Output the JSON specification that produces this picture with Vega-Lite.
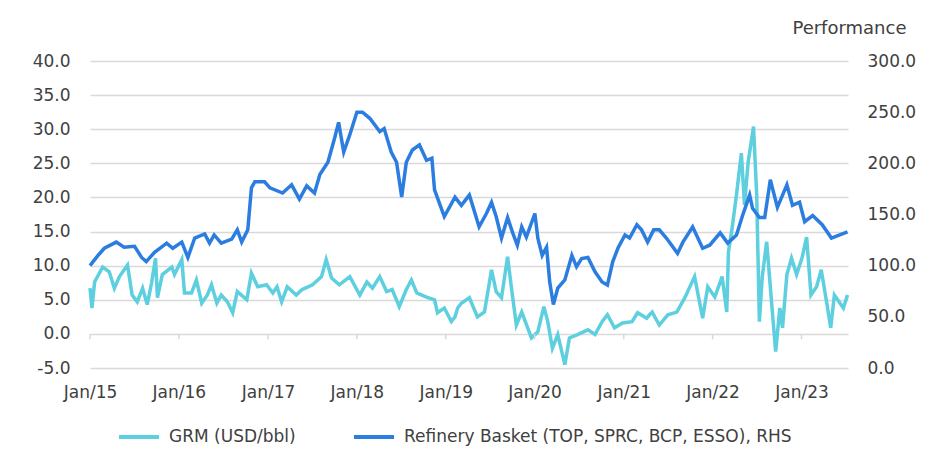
{
  "$schema": "https://vega.github.io/schema/vega-lite/v6.json",
  "width": 758,
  "height": 307,
  "autosize": {"type": "none"},
  "padding": {"left": 90, "top": 61, "right": 80, "bottom": 100},
  "background": "white",
  "config": {
    "font": "DejaVu Sans",
    "view": {"stroke": null},
    "axis": {
      "labelFont": "DejaVu Sans",
      "labelFontSize": 17,
      "labelColor": "#404040",
      "labelOverlap": false,
      "domain": false,
      "ticks": false,
      "gridColor": "#d9d9d9",
      "gridWidth": 1.5,
      "titleFont": "DejaVu Sans",
      "titleFontWeight": "normal",
      "titleColor": "#404040",
      "titleFontSize": 18
    }
  },
  "datasets": {
    "ticks": [
      {"d": "2015-01-01"}, {"d": "2016-01-01"}, {"d": "2017-01-01"}, {"d": "2018-01-01"}, {"d": "2019-01-01"},
      {"d": "2020-01-01"}, {"d": "2021-01-01"}, {"d": "2022-01-01"}, {"d": "2023-01-01"}
    ],
    "grm": [
      {"d": "2015-01-01", "v": 6.7}, {"d": "2015-01-09", "v": 3.8}, {"d": "2015-01-20", "v": 7.6},
      {"d": "2015-02-22", "v": 9.8}, {"d": "2015-03-21", "v": 9.1}, {"d": "2015-04-11", "v": 6.7},
      {"d": "2015-05-02", "v": 8.4}, {"d": "2015-06-04", "v": 10.1}, {"d": "2015-06-23", "v": 5.7},
      {"d": "2015-07-14", "v": 4.7}, {"d": "2015-08-05", "v": 6.7}, {"d": "2015-08-24", "v": 4.3},
      {"d": "2015-09-11", "v": 7.5}, {"d": "2015-09-27", "v": 11.1}, {"d": "2015-10-05", "v": 5.3},
      {"d": "2015-10-25", "v": 8.7}, {"d": "2015-12-03", "v": 9.8}, {"d": "2015-12-14", "v": 8.7},
      {"d": "2016-01-13", "v": 10.9}, {"d": "2016-01-24", "v": 6.0}, {"d": "2016-02-22", "v": 6.0},
      {"d": "2016-03-13", "v": 7.9}, {"d": "2016-04-04", "v": 4.5}, {"d": "2016-04-27", "v": 5.7},
      {"d": "2016-05-14", "v": 7.2}, {"d": "2016-06-05", "v": 4.5}, {"d": "2016-06-23", "v": 5.7},
      {"d": "2016-07-18", "v": 4.7}, {"d": "2016-08-09", "v": 3.1}, {"d": "2016-08-28", "v": 6.2},
      {"d": "2016-10-06", "v": 5.0}, {"d": "2016-10-25", "v": 8.9}, {"d": "2016-11-20", "v": 6.9},
      {"d": "2016-12-26", "v": 7.2}, {"d": "2017-01-21", "v": 6.0}, {"d": "2017-02-07", "v": 6.9},
      {"d": "2017-02-26", "v": 4.7}, {"d": "2017-03-21", "v": 6.9}, {"d": "2017-04-27", "v": 5.7},
      {"d": "2017-05-21", "v": 6.5}, {"d": "2017-07-03", "v": 7.2}, {"d": "2017-08-09", "v": 8.4},
      {"d": "2017-08-28", "v": 10.9}, {"d": "2017-09-19", "v": 8.2}, {"d": "2017-10-21", "v": 7.2},
      {"d": "2017-12-03", "v": 8.4}, {"d": "2018-01-13", "v": 5.7}, {"d": "2018-02-11", "v": 7.6},
      {"d": "2018-03-06", "v": 6.7}, {"d": "2018-04-05", "v": 8.4}, {"d": "2018-05-03", "v": 6.2},
      {"d": "2018-05-26", "v": 6.5}, {"d": "2018-06-24", "v": 4.0}, {"d": "2018-07-23", "v": 6.5},
      {"d": "2018-08-13", "v": 7.9}, {"d": "2018-09-04", "v": 6.0}, {"d": "2018-10-14", "v": 5.4},
      {"d": "2018-11-16", "v": 5.0}, {"d": "2018-11-28", "v": 3.1}, {"d": "2018-12-26", "v": 3.8},
      {"d": "2019-01-24", "v": 1.8}, {"d": "2019-02-08", "v": 2.5}, {"d": "2019-02-19", "v": 3.8},
      {"d": "2019-03-06", "v": 4.5}, {"d": "2019-04-08", "v": 5.3}, {"d": "2019-05-11", "v": 2.5},
      {"d": "2019-06-09", "v": 3.2}, {"d": "2019-07-08", "v": 9.4}, {"d": "2019-07-27", "v": 6.2},
      {"d": "2019-08-18", "v": 5.3}, {"d": "2019-09-12", "v": 11.3}, {"d": "2019-09-28", "v": 6.7},
      {"d": "2019-10-18", "v": 1.3}, {"d": "2019-11-09", "v": 3.2}, {"d": "2019-12-19", "v": -0.6},
      {"d": "2020-01-14", "v": 0.3}, {"d": "2020-02-08", "v": 4.0}, {"d": "2020-02-24", "v": 1.8},
      {"d": "2020-03-14", "v": -2.1}, {"d": "2020-04-05", "v": -0.1}, {"d": "2020-05-04", "v": -4.5},
      {"d": "2020-05-23", "v": -0.6}, {"d": "2020-06-25", "v": -0.1}, {"d": "2020-08-07", "v": 0.6},
      {"d": "2020-09-05", "v": -0.1}, {"d": "2020-10-04", "v": 1.8}, {"d": "2020-10-26", "v": 2.8},
      {"d": "2020-11-24", "v": 0.9}, {"d": "2020-12-27", "v": 1.6}, {"d": "2021-02-04", "v": 1.8},
      {"d": "2021-02-27", "v": 3.1}, {"d": "2021-04-05", "v": 2.3}, {"d": "2021-04-17", "v": 2.8},
      {"d": "2021-04-28", "v": 3.2}, {"d": "2021-05-27", "v": 1.3}, {"d": "2021-07-01", "v": 2.8},
      {"d": "2021-08-07", "v": 3.2}, {"d": "2021-09-09", "v": 5.3}, {"d": "2021-10-19", "v": 8.4},
      {"d": "2021-11-21", "v": 2.3}, {"d": "2021-12-12", "v": 6.9}, {"d": "2022-01-10", "v": 5.4},
      {"d": "2022-02-09", "v": 8.4}, {"d": "2022-02-28", "v": 3.2}, {"d": "2022-03-07", "v": 12.0},
      {"d": "2022-03-22", "v": 15.5}, {"d": "2022-04-09", "v": 20.4}, {"d": "2022-04-29", "v": 26.5},
      {"d": "2022-05-12", "v": 18.9}, {"d": "2022-05-27", "v": 25.2}, {"d": "2022-06-18", "v": 30.4},
      {"d": "2022-07-01", "v": 20.4}, {"d": "2022-07-12", "v": 1.8}, {"d": "2022-07-24", "v": 8.4},
      {"d": "2022-08-11", "v": 13.5}, {"d": "2022-09-02", "v": 3.8}, {"d": "2022-09-17", "v": -2.6},
      {"d": "2022-10-04", "v": 3.8}, {"d": "2022-10-15", "v": 0.9}, {"d": "2022-11-02", "v": 8.7},
      {"d": "2022-11-21", "v": 11.1}, {"d": "2022-12-12", "v": 8.7}, {"d": "2023-01-03", "v": 11.1},
      {"d": "2023-01-22", "v": 14.2}, {"d": "2023-02-09", "v": 5.7}, {"d": "2023-03-04", "v": 6.9},
      {"d": "2023-03-23", "v": 9.4}, {"d": "2023-04-14", "v": 4.7}, {"d": "2023-05-01", "v": 0.9},
      {"d": "2023-05-16", "v": 5.7}, {"d": "2023-06-22", "v": 3.8}, {"d": "2023-07-09", "v": 5.7}
    ],
    "ref": [
      {"d": "2015-01-01", "v": 100}, {"d": "2015-02-03", "v": 110}, {"d": "2015-03-01", "v": 117},
      {"d": "2015-04-19", "v": 123}, {"d": "2015-05-21", "v": 118}, {"d": "2015-07-03", "v": 119},
      {"d": "2015-08-01", "v": 108}, {"d": "2015-08-20", "v": 104}, {"d": "2015-09-23", "v": 113},
      {"d": "2015-11-12", "v": 122}, {"d": "2015-12-07", "v": 117}, {"d": "2016-01-13", "v": 123},
      {"d": "2016-02-07", "v": 108}, {"d": "2016-03-06", "v": 127}, {"d": "2016-04-16", "v": 131},
      {"d": "2016-05-06", "v": 122}, {"d": "2016-05-25", "v": 130}, {"d": "2016-06-23", "v": 122},
      {"d": "2016-08-05", "v": 126}, {"d": "2016-08-28", "v": 135}, {"d": "2016-09-15", "v": 123},
      {"d": "2016-10-10", "v": 135}, {"d": "2016-10-25", "v": 176}, {"d": "2016-11-08", "v": 182},
      {"d": "2016-12-18", "v": 182}, {"d": "2017-01-09", "v": 176}, {"d": "2017-03-02", "v": 171},
      {"d": "2017-04-08", "v": 179}, {"d": "2017-05-10", "v": 165}, {"d": "2017-06-09", "v": 178},
      {"d": "2017-07-11", "v": 171}, {"d": "2017-08-02", "v": 189}, {"d": "2017-09-04", "v": 201},
      {"d": "2017-10-02", "v": 225}, {"d": "2017-10-18", "v": 240}, {"d": "2017-11-08", "v": 211},
      {"d": "2017-12-03", "v": 228}, {"d": "2018-01-01", "v": 250}, {"d": "2018-01-24", "v": 250},
      {"d": "2018-02-23", "v": 244}, {"d": "2018-04-05", "v": 231}, {"d": "2018-04-23", "v": 234},
      {"d": "2018-05-22", "v": 211}, {"d": "2018-06-13", "v": 201}, {"d": "2018-07-04", "v": 167},
      {"d": "2018-07-23", "v": 201}, {"d": "2018-08-17", "v": 213}, {"d": "2018-09-15", "v": 218},
      {"d": "2018-10-14", "v": 203}, {"d": "2018-11-05", "v": 205}, {"d": "2018-11-16", "v": 174},
      {"d": "2018-12-26", "v": 148}, {"d": "2019-02-08", "v": 167}, {"d": "2019-03-06", "v": 159},
      {"d": "2019-04-08", "v": 169}, {"d": "2019-05-18", "v": 138}, {"d": "2019-06-17", "v": 151},
      {"d": "2019-07-08", "v": 162}, {"d": "2019-07-27", "v": 148}, {"d": "2019-08-18", "v": 127},
      {"d": "2019-09-12", "v": 147}, {"d": "2019-10-03", "v": 132}, {"d": "2019-10-22", "v": 120},
      {"d": "2019-11-09", "v": 138}, {"d": "2019-11-28", "v": 128}, {"d": "2020-01-02", "v": 151},
      {"d": "2020-01-14", "v": 127}, {"d": "2020-02-01", "v": 110}, {"d": "2020-02-19", "v": 118},
      {"d": "2020-03-03", "v": 84}, {"d": "2020-03-18", "v": 62}, {"d": "2020-04-05", "v": 78},
      {"d": "2020-05-04", "v": 86}, {"d": "2020-06-02", "v": 110}, {"d": "2020-06-21", "v": 99},
      {"d": "2020-07-12", "v": 107}, {"d": "2020-08-07", "v": 108}, {"d": "2020-09-05", "v": 94},
      {"d": "2020-10-04", "v": 84}, {"d": "2020-10-26", "v": 81}, {"d": "2020-11-17", "v": 104},
      {"d": "2020-12-08", "v": 117}, {"d": "2021-01-06", "v": 130}, {"d": "2021-01-25", "v": 127},
      {"d": "2021-02-24", "v": 140}, {"d": "2021-03-15", "v": 135}, {"d": "2021-04-09", "v": 123},
      {"d": "2021-05-04", "v": 135}, {"d": "2021-05-27", "v": 135}, {"d": "2021-06-25", "v": 127},
      {"d": "2021-08-10", "v": 112}, {"d": "2021-09-01", "v": 123}, {"d": "2021-10-11", "v": 138},
      {"d": "2021-11-21", "v": 117}, {"d": "2021-12-20", "v": 120}, {"d": "2022-02-01", "v": 132},
      {"d": "2022-03-04", "v": 122}, {"d": "2022-04-09", "v": 130}, {"d": "2022-05-04", "v": 149},
      {"d": "2022-06-02", "v": 169}, {"d": "2022-06-14", "v": 156}, {"d": "2022-07-12", "v": 147},
      {"d": "2022-08-03", "v": 147}, {"d": "2022-08-26", "v": 184}, {"d": "2022-09-24", "v": 157},
      {"d": "2022-11-02", "v": 179}, {"d": "2022-11-25", "v": 159}, {"d": "2022-12-24", "v": 162},
      {"d": "2023-01-14", "v": 143}, {"d": "2023-02-16", "v": 149}, {"d": "2023-03-27", "v": 140},
      {"d": "2023-05-04", "v": 127}, {"d": "2023-06-07", "v": 130}, {"d": "2023-07-09", "v": 133}
    ]
  },
  "encoding": {
    "x": {
      "field": "d",
      "type": "temporal",
      "scale": {"domain": [{"year": 2015, "month": 1, "date": 1, "utc": true}, {"year": 2023, "month": 7, "date": 11, "utc": true}]},
      "axis": {
        "title": null,
        "labelExpr": "utcFormat(datum.value, '%b/%y')",
        "grid": false,
        "labelPadding": 16,
        "labelFlush": false,
        "values": [
          {"year": 2015, "month": 1, "date": 1, "utc": true}, {"year": 2016, "month": 1, "date": 1, "utc": true},
          {"year": 2017, "month": 1, "date": 1, "utc": true}, {"year": 2018, "month": 1, "date": 1, "utc": true},
          {"year": 2019, "month": 1, "date": 1, "utc": true}, {"year": 2020, "month": 1, "date": 1, "utc": true},
          {"year": 2021, "month": 1, "date": 1, "utc": true}, {"year": 2022, "month": 1, "date": 1, "utc": true},
          {"year": 2023, "month": 1, "date": 1, "utc": true}
        ]
      }
    }
  },
  "layer": [
    {
      "layer": [
        {
          "data": {"name": "grm"},
          "mark": {"type": "line", "strokeWidth": 3.5, "interpolate": "linear"},
          "encoding": {
            "y": {
              "field": "v",
              "type": "quantitative",
              "scale": {"domain": [-5, 40], "nice": false, "zero": false},
              "axis": {"title": null, "orient": "left", "labelExpr": "replace(format(datum.value, '.1f'), '\u2212', '-')", "values": [-5, 0, 5, 10, 15, 20, 25, 30, 35, 40], "grid": true, "labelPadding": 20}
            },
            "color": {
              "datum": "GRM (USD/bbl)",
              "scale": {
                "domain": ["GRM (USD/bbl)", "Refinery Basket (TOP, SPRC, BCP, ESSO), RHS"],
                "range": ["#5DCFDF", "#2C7DE0"]
              },
              "legend": {
                "orient": "none",
                "legendX": 27,
                "legendY": 354,
                "direction": "horizontal",
                "title": null,
                "symbolType": "stroke",
                "symbolSize": 1600,
                "symbolStrokeWidth": 4,
                "labelFont": "DejaVu Sans",
                "labelFontSize": 17,
                "labelColor": "#404040",
                "labelLimit": 600,
                "labelOffset": 8,
                "columnPadding": 50
              }
            }
          }
        },
        {
          "data": {"name": "ticks"},
          "mark": {"type": "rule", "color": "#d9d9d9", "strokeWidth": 1.5},
          "encoding": {
            "y": {
              "datum": 0,
              "type": "quantitative",
              "axis": {"title": null, "orient": "left", "labelExpr": "replace(format(datum.value, '.1f'), '\u2212', '-')", "values": [-5, 0, 5, 10, 15, 20, 25, 30, 35, 40], "grid": true, "labelPadding": 20}
            },
            "y2": {"datum": -0.8}
          }
        }
      ]
    },
    {
      "data": {"name": "ref"},
      "mark": {"type": "line", "strokeWidth": 3.5, "interpolate": "linear"},
      "encoding": {
        "y": {
          "field": "v",
          "type": "quantitative",
          "scale": {"domain": [0, 300], "nice": false},
          "axis": {
            "title": "Performance",
            "orient": "right",
            "format": ".1f",
            "values": [0, 50, 100, 150, 200, 250, 300],
            "grid": false,
            "labelPadding": 19,
            "titleAngle": 0,
            "titleAlign": "right",
            "titleBaseline": "bottom",
            "titleX": 58,
            "titleY": -24
          }
        },
        "color": {"datum": "Refinery Basket (TOP, SPRC, BCP, ESSO), RHS"}
      }
    }
  ],
  "resolve": {"scale": {"y": "independent"}}
}
